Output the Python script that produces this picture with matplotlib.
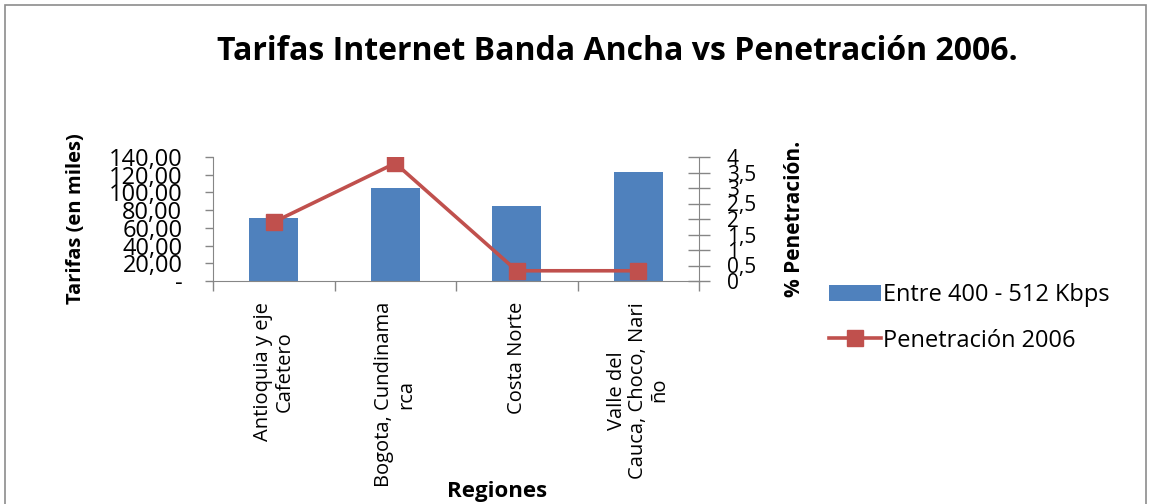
import numpy as np
import matplotlib
matplotlib.use("Agg")
import matplotlib.pyplot as plt
from matplotlib.patches import Rectangle
from matplotlib.ticker import FixedLocator, FuncFormatter

regiones = ["Antioquia y eje\nCafetero", "Bogota, Cundinama\nrca", "Costa Norte",
            "Valle del\nCauca, Choco, Nari\nño"]
tarifas = [71, 105, 85, 123]
penetracion = [1.9, 3.8, 0.33, 0.33]

azul = "#4F81BD"
rojo = "#C0504D"
gris = "#868686"

plt.rcParams["font.family"] = ["Open Sans", "DejaVu Sans"]

fig = plt.figure(figsize=(11.49, 5.04), dpi=100)
# marco gris del area del grafico
fig.patches.append(Rectangle((5 / 1149, -0.05), 1141 / 1149, 1.05 - 5 / 504, transform=fig.transFigure,
                             fill=False, edgecolor="#8C8C8C", linewidth=1.2))

ax = fig.add_axes([213 / 1149, 1 - 281 / 504, 486 / 1149, 124 / 504])
x = np.arange(len(regiones))
barras = ax.bar(x, tarifas, width=0.4, color=azul, label="Entre 400 - 512 Kbps", zorder=2)
ax.set_xlim(-0.5, len(regiones) - 0.5)
ax.set_ylim(0, 140)
ax.set_yticks(np.arange(0, 141, 20))
ax.yaxis.set_major_formatter(FuncFormatter(lambda v, p: "-" if v == 0 else f"{v:.2f}".replace(".", ",")))
ax.tick_params(axis="y", direction="out", length=6, width=1, color=gris, labelsize=17, pad=16)

ax.xaxis.set_major_locator(FixedLocator(np.arange(-0.5, len(regiones), 1)))
ax.xaxis.set_minor_locator(FixedLocator(x))
ax.xaxis.set_major_formatter(FuncFormatter(lambda v, p: ""))
ax.set_xticks(x, regiones, minor=True, rotation=90, ha="center", va="top", multialignment="center",
              linespacing=1.1)
ax.tick_params(axis="x", which="major", direction="out", length=7, width=1, color=gris)
ax.tick_params(axis="x", which="minor", length=0, labelsize=14.5, pad=15)

for side in ["top", "right"]:
    ax.spines[side].set_visible(False)
for side in ["left", "bottom"]:
    ax.spines[side].set_color(gris)
ax.set_ylabel("Tarifas (en miles)", fontsize=14.5, fontweight="bold", labelpad=16)

ax2 = ax.twinx()
linea, = ax2.plot(x, penetracion, color=rojo, linewidth=2.6, marker="s", markersize=11,
                  label="Penetración 2006", zorder=3)
ax2.set_ylim(0, 4)
ax2.set_yticks(np.arange(0, 4.01, 0.5))
ax2.yaxis.set_major_formatter(FuncFormatter(lambda v, p: f"{v:g}".replace(".", ",")))
ax2.tick_params(axis="y", direction="inout", length=16, width=1, color=gris, labelsize=15, pad=12)
for side in ["top", "left", "bottom"]:
    ax2.spines[side].set_visible(False)
ax2.spines["right"].set_color(gris)
ax2.set_ylabel("% Penetración.", fontsize=15, fontweight="bold", labelpad=20)

fig.text(617 / 1149, 1 - 52 / 504, "Tarifas Internet Banda Ancha vs Penetración 2006.",
         ha="center", va="center", fontsize=23, fontweight="bold")
fig.text(497 / 1149, 1 - 491 / 504, "Regiones", ha="center", va="center", fontsize=16, fontweight="bold")

fig.legend([barras, linea], ["Entre 400 - 512 Kbps", "Penetración 2006"], loc="center left",
           bbox_to_anchor=(817 / 1149, 1 - 318 / 504), frameon=False, fontsize=17,
           handlelength=2.2, handleheight=0.7, handletextpad=0.1, labelspacing=0.9, borderpad=0)

fig.savefig("out.png", dpi=100)
